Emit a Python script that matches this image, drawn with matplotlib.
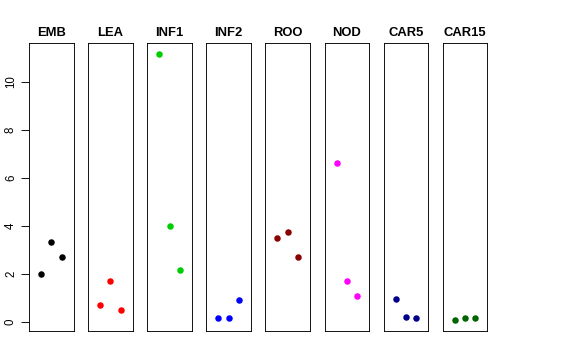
import matplotlib
matplotlib.use("Agg")
import matplotlib.pyplot as plt

plt.rcParams['font.family'] = ['Liberation Sans', 'DejaVu Sans']

tissues = ["EMB", "LEA", "INF1", "INF2", "ROO", "NOD", "CAR5", "CAR15"]
colors = ["black", "#FF0000", "#00CD00", "#0000FF", "#8B0000", "#FF00FF", "#00008B", "#006400"]

# three replicates per tissue
emb = [2.00, 3.31, 2.69]
lea = [0.67, 1.68, 0.47]
inf1 = [11.17, 3.98, 2.16]
inf2 = [0.14, 0.15, 0.88]
roo = [3.49, 3.74, 2.69]
nod = [6.59, 1.68, 1.05]
car5 = [0.92, 0.18, 0.14]
car15 = [0.05, 0.13, 0.13]
values = [emb, lea, inf1, inf2, roo, nod, car5, car15]
reps = [1, 2, 3]
yticks = [0, 2, 4, 6, 8, 10]

W, H = 576, 360
fig = plt.figure(figsize=(W / 72, H / 72), dpi=72)

allv = [v for vals in values for v in vals]
lo, hi = min(allv), max(allv)
pad = (hi - lo) * 0.04

left0, step, pw = 29, 59.1, 44.7
top, bot = 43, 331
for i, (name, vals, col) in enumerate(zip(tissues, values, colors)):
    ax = fig.add_axes([(left0 + i * step) / W, 1 - bot / H, pw / W, (bot - top) / H])
    ax.scatter(reps, vals, s=42, color=col, zorder=3, linewidths=0)
    ax.set_xlim(-0.16, 4.16)
    ax.set_ylim(lo - pad, hi + pad)
    ax.set_xticks([])
    ax.set_title(name, fontsize=13, fontweight='bold', pad=7)
    for s in ax.spines.values():
        s.set_linewidth(0.9)
    if i == 0:
        ax.set_yticks(yticks)
        ax.set_yticklabels([str(t) for t in yticks], rotation=90, va='center', fontsize=11.5)
        ax.tick_params(axis='y', length=8, width=0.9, pad=4)
    else:
        ax.set_yticks([])

plt.savefig("out.png", dpi=72)
